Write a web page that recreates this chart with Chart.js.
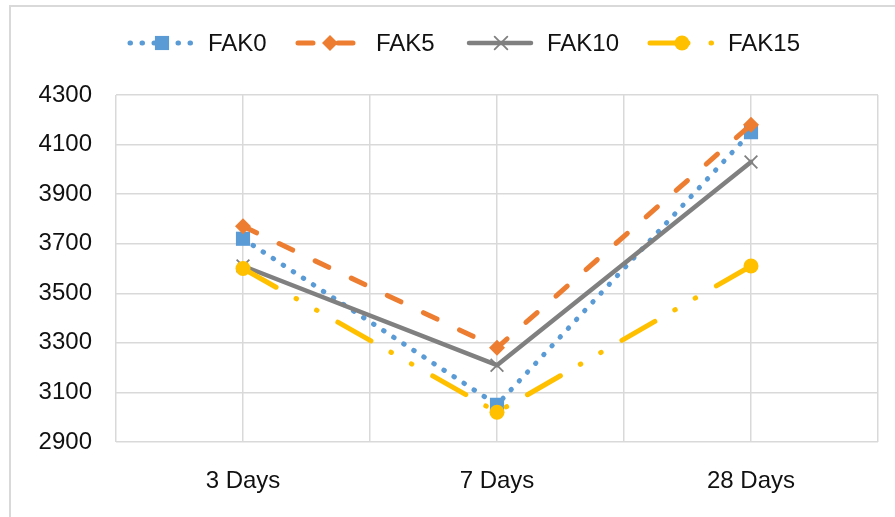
<!DOCTYPE html>
<html>
<head>
<meta charset="utf-8">
<script src="https://cdn.jsdelivr.net/npm/chart.js@4.4.1/dist/chart.umd.min.js"></script>
<style>
  html, body { margin: 0; padding: 0; background: #fff; }
  #wrap { width: 895px; height: 517px; position: relative; }
</style>
</head>
<body>
<div id="wrap"><canvas id="c" width="895" height="517"></canvas></div>
<script>
// Curing ages on the horizontal axis
const categories = ['3 Days', '7 Days', '28 Days'];

// Values per mix
const fak0 = [3720, 3050, 4150];
const fak5 = [3770, 3280, 4180];
const fak10 = [3610, 3210, 4030];
const fak15 = [3600, 3020, 3610];

const seriesNames = ['FAK0', 'FAK5', 'FAK10', 'FAK15'];

// Value axis range
const yMin = 2900;
const yMax = 4300;
const yStep = 200;

const FONT = "'Liberation Sans', Arial, sans-serif";
const FONT_SIZE = 24;

// Each category sits in the middle of its band on a 0..n linear scale
function toPoints(values) {
  return values.map((v, i) => ({ x: i + 0.5, y: v }));
}

const styles = [
  { color: '#5B9BD5', dash: [0.5, 11.5], width: 5, pointStyle: 'rect', radius: 10, pbw: 0 },
  { color: '#ED7D31', dash: [15, 25], width: 5, pointStyle: 'rectRot', radius: 8, pbw: 0 },
  { color: '#808080', dash: [], width: 4.5, pointStyle: 'crossRot', radius: 9, pbw: 1.8 },
  { color: '#FFC000', dash: [38, 23, 0.5, 23, 0.5, 24], width: 5, pointStyle: 'circle', radius: 7.5, pbw: 0 }
];

const seriesValues = [fak0, fak5, fak10, fak15];

const datasets = seriesValues.map((vals, i) => ({
  label: seriesNames[i],
  data: toPoints(vals),
  borderColor: styles[i].color,
  backgroundColor: styles[i].color,
  borderWidth: styles[i].width,
  borderDash: styles[i].dash,
  borderCapStyle: 'round',
  borderJoinStyle: 'round',
  pointStyle: styles[i].pointStyle,
  pointRadius: styles[i].radius,
  pointHoverRadius: styles[i].radius,
  pointBorderWidth: styles[i].pbw,
  pointBorderColor: styles[i].color,
  pointBackgroundColor: styles[i].color,
  tension: 0,
  order: 4 - i
}));

// Outer frame of the chart object
const framePlugin = {
  id: 'frame',
  beforeDraw(chart) {
    const ctx = chart.ctx;
    ctx.save();
    ctx.fillStyle = '#ffffff';
    ctx.fillRect(0, 0, chart.width, chart.height);
    ctx.strokeStyle = '#d9d9d9';
    ctx.lineWidth = 2;
    ctx.strokeRect(10, 6, 900, 600);
    ctx.restore();
  }
};

// Legend row: line sample with marker, then the series name
const legendSlots = [130, 298, 469, 650];
const lineLegend = {
  id: 'lineLegend',
  afterDraw(chart) {
    const ctx = chart.ctx;
    const y = 43;
    const sampleLen = 62;
    const textOffset = 78;
    ctx.save();
    ctx.font = FONT_SIZE + 'px ' + FONT;
    chart.data.datasets.forEach((ds, i) => {
      const x = legendSlots[i];
      ctx.save();
      ctx.strokeStyle = ds.borderColor;
      ctx.lineWidth = ds.borderWidth;
      ctx.lineCap = 'round';
      ctx.setLineDash(ds.borderDash);
      ctx.beginPath();
      ctx.moveTo(x, y);
      ctx.lineTo(x + sampleLen, y);
      ctx.stroke();
      ctx.setLineDash([]);
      ctx.fillStyle = ds.pointBackgroundColor;
      ctx.strokeStyle = ds.pointBorderColor;
      ctx.lineWidth = ds.pointBorderWidth;
      Chart.helpers.drawPoint(ctx, {
        pointStyle: ds.pointStyle,
        radius: ds.pointRadius,
        rotation: 0,
        borderWidth: ds.pointBorderWidth
      }, x + 32, y);
      ctx.restore();
      ctx.fillStyle = '#111';
      ctx.textBaseline = 'middle';
      ctx.textAlign = 'left';
      ctx.fillText(ds.label, x + textOffset, y + 1);
    });
    ctx.restore();
  }
};

new Chart(document.getElementById('c'), {
  type: 'line',
  data: { datasets },
  options: {
    responsive: false,
    animation: false,
    devicePixelRatio: 1,
    layout: { padding: { left: 0, right: 17, top: 95, bottom: 0 } },
    plugins: {
      legend: { display: false },
      tooltip: { enabled: false }
    },
    scales: {
      x: {
        type: 'linear',
        min: 0,
        max: categories.length,
        afterFit(scale) {
          scale.height = 75;
          scale.paddingLeft = 0;
          scale.paddingRight = 0;
        },
        afterBuildTicks(scale) {
          const t = [];
          for (let v = 0; v <= categories.length + 1e-9; v += 0.5) t.push({ value: v });
          scale.ticks = t;
        },
        ticks: {
          autoSkip: false,
          maxRotation: 0,
          padding: 25,
          color: '#111',
          font: { family: FONT, size: FONT_SIZE },
          callback(value) {
            const f = value - Math.floor(value);
            return Math.abs(f - 0.5) < 1e-6 ? categories[Math.floor(value)] : '';
          }
        },
        grid: { color: '#d9d9d9', lineWidth: 1.5, drawTicks: false },
        border: { display: false }
      },
      y: {
        min: yMin,
        max: yMax,
        afterFit(scale) {
          scale.width = 116;
          scale.paddingTop = 0;
          scale.paddingBottom = 0;
        },
        ticks: {
          stepSize: yStep,
          padding: 24,
          color: '#111',
          font: { family: FONT, size: FONT_SIZE },
          callback(value) { return String(value); }
        },
        grid: { color: '#d9d9d9', lineWidth: 1.5, drawTicks: false },
        border: { display: false }
      }
    }
  },
  plugins: [framePlugin, lineLegend]
});
</script>
</body>
</html>
